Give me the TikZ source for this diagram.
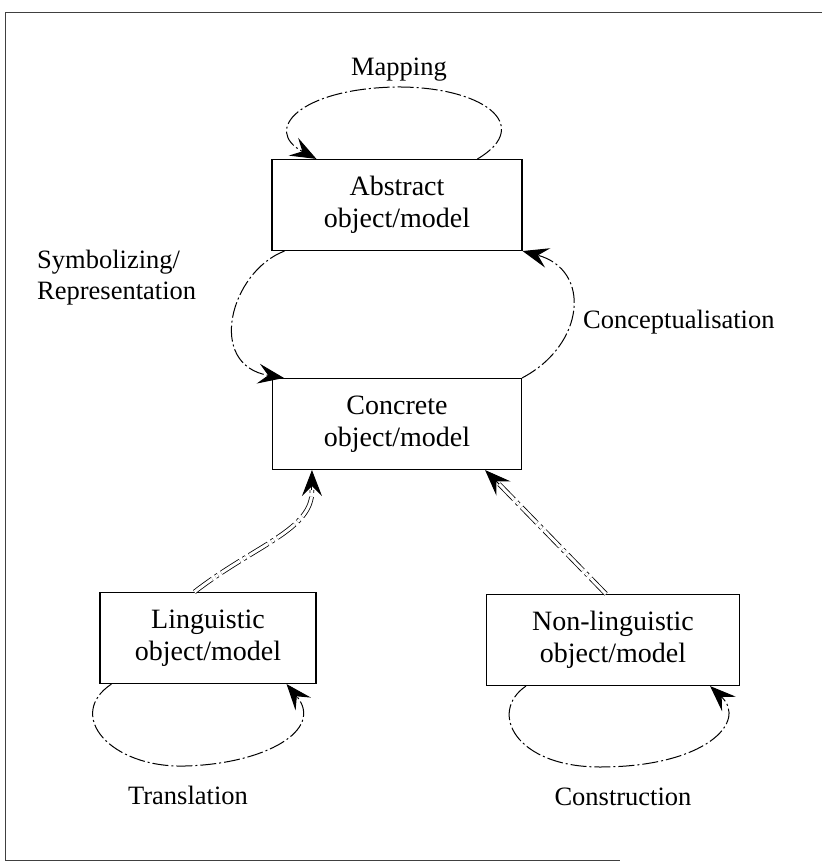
\documentclass[tikz,border=0pt]{standalone}
\usepackage{fontspec}
\setmainfont{Liberation Serif}
\usetikzlibrary{arrows.meta,calc}
\begin{document}
\begin{tikzpicture}[x=1pt,y=-1pt,
  box/.style={draw, line width=1.1pt, minimum width=#1, minimum height=91pt,
    inner sep=0pt, align=center, font=\fontsize{28}{32}\selectfont},
  lbl/.style={font=\fontsize{26.5}{31}\selectfont, inner sep=0pt},
  tip/.style={-{Stealth[length=26pt,width=20pt,inset=10pt]}},
  flow/.style={line width=1pt, dash pattern=on 16pt off 3pt on 2pt off 3pt, tip},
  link/.style={double, double distance=3pt, line width=0.8pt,
    dash pattern=on 22pt off 4pt on 3pt off 4pt},
  frame/.style={line width=0.9pt, black!75}
]
\useasboundingbox (0,0) rectangle (828,866);

% outer frame (open on the right)
\draw[frame] (822,12) -- (5,12) -- (5,860) -- (620,860);

% the four object/model boxes
\node[box=250pt] (abs)  at (397,205) {Abstract\\object/model};
\node[box=249pt] (con)  at (397,424) {Concrete\\object/model};
\node[box=216pt] (ling) at (208,638) {Linguistic\\object/model};
\node[box=253pt] (non)  at (613,640) {Non-linguistic\\object/model};

% labels of the processes
\node[lbl] (map) at (399,70) {Mapping};
\node[lbl, anchor=west, align=left] (sym) at (37,278) {Symbolizing/\\Representation};
\node[lbl, anchor=west] (cpt) at (583,322) {Conceptualisation};
\node[lbl] (tra) at (188,795) {Translation};
\node[lbl] (cns) at (623,797) {Construction};

% Mapping: abstract onto itself
\draw[flow] ($(abs.north west)+(206,0)$) .. controls (535,125) and (482,86)
  .. (395,87) .. controls (300,89) and (262,130) .. ($(abs.north west)+(45,0)$);

% Symbolizing / Representation: abstract -> concrete
\draw[flow] ($(abs.south west)+(13,0)$) .. controls (230,272) and (206,365)
  .. ($(con.north west)+(12,0)$);

% Conceptualisation: concrete -> abstract
\draw[flow] (con.north east) .. controls (585,345) and (592,270) .. (abs.south east);

% linguistic and non-linguistic models feeding the concrete one
\draw[link] ($(ling.north west)+(95,0)$) .. controls (255,545) and (313,530)
  .. ($(con.south west)+(40,20)$) coordinate (lt);
\draw[line width=1pt, tip] (lt) -- ($(con.south west)+(40,0)$);
\draw[link] ($(non.north west)+(120,0)$) -- ($(con.south east)+(-23,14)$) coordinate (nt);
\draw[line width=1pt, tip] (nt) -- ($(con.south east)+(-37,0)$);

% Translation: linguistic onto itself
\draw[flow] ($(ling.south west)+(12,0)$) .. controls (65,715) and (110,768)
  .. (185,766) .. controls (265,764) and (325,730) .. ($(ling.south east)+(-30,0)$);

% Construction: non-linguistic onto itself
\draw[flow] ($(non.south west)+(40,0)$) .. controls (488,712) and (515,767)
  .. (600,767) .. controls (705,767) and (748,722) .. ($(non.south east)+(-30,0)$);
\end{tikzpicture}
\end{document}
